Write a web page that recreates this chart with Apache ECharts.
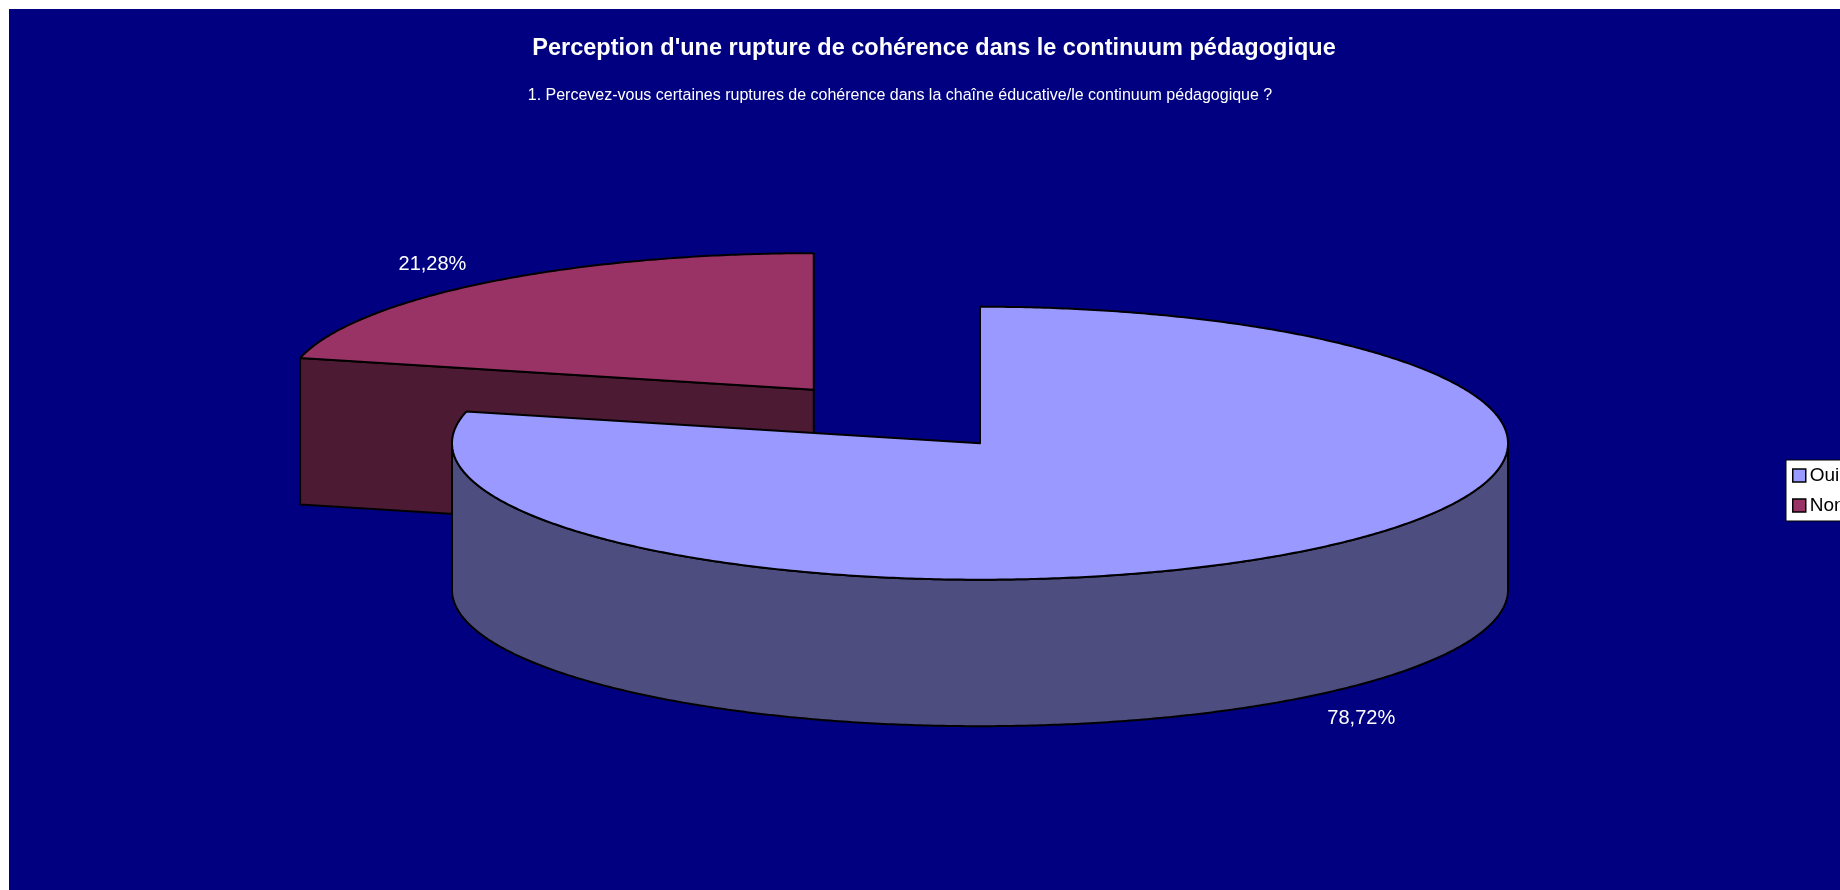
<!DOCTYPE html>
<html>
<head>
<meta charset="utf-8">
<title>Perception d'une rupture de cohérence</title>
<script src="https://cdn.jsdelivr.net/npm/echarts@6/dist/echarts.min.js"></script>
<style>
  html, body { margin: 0; padding: 0; background: #fff; overflow: hidden; }
  #chart { width: 1840px; height: 890px; }
</style>
</head>
<body>
<div id="chart"></div>
<script>
const categories = ['Oui', 'Non']
const shares = [78.72, 21.28]
const topColors = ['#9999FF', '#993366']
const wallColors = ['#4D4D80', '#4D1A33']
const titleText = "Perception d'une rupture de cohérence dans le continuum pédagogique"
const subtitleText = '1. Percevez-vous certaines ruptures de cohérence dans la chaîne éducative/le continuum pédagogique ?'

// flat pie seen from above: ellipse + depth
const pie = { cx: 980, cy: 443.2, rx: 528, ry: 136.5, depth: 146.5, explodeX: 0.508, explodeY: 0.5, labelAt: 1.165 }
const outline = { stroke: '#000', lineWidth: 2, lineJoin: 'round' }

const total = shares.reduce((a, b) => a + b, 0)

// angles in degrees, clockwise from 12 o'clock
function sliceAngles(index) {
  let start = 0
  for (let i = 0; i < index; i++) start += shares[i] / total * 360
  return [start, start + shares[index] / total * 360]
}

function onEllipse(cx, cy, deg, k = 1) {
  const rad = deg * Math.PI / 180
  return [cx + pie.rx * k * Math.sin(rad), cy - pie.ry * k * Math.cos(rad)]
}

function arc(cx, cy, from, to) {
  const pts = []
  const n = Math.max(2, Math.ceil(Math.abs(to - from) * 2))
  for (let i = 0; i <= n; i++) {
    pts.push(onEllipse(cx, cy, from + (to - from) * i / n))
  }
  return pts
}

function renderSlice(index, value) {
  const [start, end] = sliceAngles(index)
  const mid = (start + end) / 2
  const cx = pie.cx + (index === 1 ? pie.rx * pie.explodeX * Math.sin(mid * Math.PI / 180) : 0)
  const cy = pie.cy - (index === 1 ? pie.ry * pie.explodeY * Math.cos(mid * Math.PI / 180) : 0)
  const children = []

  // outer wall, only the part facing the viewer
  const wallFrom = Math.max(start, 90)
  const wallTo = Math.min(end, 270)
  if (wallFrom < wallTo) {
    const upper = arc(cx, cy, wallFrom, wallTo)
    const lower = arc(cx, cy + pie.depth, wallTo, wallFrom)
    children.push({
      type: 'polygon',
      shape: { points: upper.concat(lower) },
      style: { fill: wallColors[index], ...outline }
    })
  }

  // cut wall of the slice that starts on the back left
  if (start > 270) {
    const corner = onEllipse(cx, cy, start)
    children.push({
      type: 'polygon',
      shape: { points: [corner, [cx, cy], [cx, cy + pie.depth], [corner[0], corner[1] + pie.depth]] },
      style: { fill: wallColors[index], ...outline }
    })
  }

  // top face
  children.push({
    type: 'polygon',
    shape: { points: [[cx, cy]].concat(arc(cx, cy, start, end)) },
    style: { fill: topColors[index], ...outline }
  })

  // value label
  const labelPos = onEllipse(cx, cy, mid, pie.labelAt)
  const isFront = mid > 90 && mid < 270
  children.push({
    type: 'text',
    x: labelPos[0],
    y: labelPos[1] + (isFront ? pie.depth + 3.5 : 0),
    style: {
      text: value.toFixed(2).replace('.', ',') + '%',
      fill: '#fff',
      font: '20px "Liberation Sans", Arial, sans-serif',
      textAlign: 'center',
      textVerticalAlign: 'middle'
    }
  })
  return { type: 'group', children }
}

const chart = echarts.init(document.getElementById('chart'))
chart.setOption({
  animation: false,
  backgroundColor: '#fff',
  graphic: [{
    type: 'rect',
    z: -1,
    shape: { x: 9, y: 9, width: 1831, height: 881 },
    style: { fill: '#000080' }
  }],
  title: [{
    text: titleText,
    left: 929,
    top: 44,
    textAlign: 'center',
    textVerticalAlign: 'middle',
    textStyle: { color: '#fff', fontSize: 23.5, fontWeight: 'bold', fontFamily: 'Liberation Sans' }
  }, {
    text: subtitleText,
    left: 895,
    top: 91,
    textAlign: 'center',
    textVerticalAlign: 'middle',
    textStyle: { color: '#fff', fontSize: 16, fontWeight: 'normal', fontFamily: 'Liberation Sans' }
  }],
  legend: {
    orient: 'vertical',
    left: 1786,
    top: 460,
    backgroundColor: '#fff',
    borderColor: '#000',
    borderWidth: 1,
    padding: [6, 4, 6, 6],
    itemWidth: 13,
    itemHeight: 13,
    itemGap: 11,
    icon: 'rect',
    selectedMode: false,
    textStyle: { color: '#000', fontSize: 19, fontFamily: 'Liberation Sans', padding: [0, 0, 0, -1] },
    data: categories.map((name, i) => ({
      name,
      itemStyle: { color: topColors[i], borderColor: '#000', borderWidth: 1.5 }
    }))
  },
  series: categories.map((name, i) => ({
    type: 'custom',
    name,
    coordinateSystem: 'none',
    silent: true,
    z: i === 0 ? 3 : 2,
    itemStyle: { color: topColors[i] },
    data: [shares[i]],
    renderItem: (params, api) => renderSlice(i, api.value(0))
  }))
})
</script>
</body>
</html>
